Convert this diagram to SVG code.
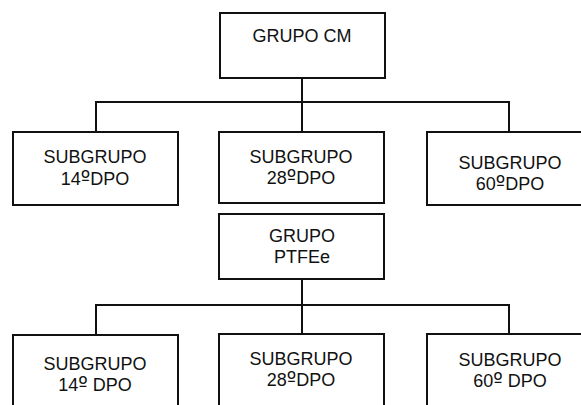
<svg xmlns="http://www.w3.org/2000/svg" width="581" height="405" viewBox="0 0 581 405">
<style>
.box{fill:#fff;stroke:#111;stroke-width:2}
.t{font-family:"Liberation Sans",Arial,sans-serif;font-size:18px;fill:#111;text-anchor:middle}
.o{font-family:"DejaVu Sans",sans-serif;font-size:20px}
.c{fill:none;stroke:#111;stroke-width:2}
</style>
<rect width="581" height="405" fill="#fff"/>
<g id="connectors">
<path class="c" d="M302 78V102M96 132V102H509V132M302 102V132"/>
<path class="c" d="M302 279V305M96 335V305H509V334M302 305V334"/>
</g>
<g id="grupo-cm"><rect class="box" x="220" y="13" width="165" height="65"/><text class="t" x="302" y="42">GRUPO CM</text></g>
<g id="cm-14"><rect class="box" x="13" y="132" width="165" height="73"/><text class="t" x="95" y="163">SUBGRUPO</text><text class="t" x="95" y="185">14<tspan class="o">º</tspan>DPO</text></g>
<g id="cm-28"><rect class="box" x="219" y="132" width="165" height="71"/><text class="t" x="301" y="163">SUBGRUPO</text><text class="t" x="301" y="184">28<tspan class="o">º</tspan>DPO</text></g>
<g id="cm-60"><rect class="box" x="427" y="132" width="166" height="73"/><text class="t" x="510" y="169">SUBGRUPO</text><text class="t" x="510" y="190">60<tspan class="o">º</tspan>DPO</text></g>
<g id="grupo-ptfee"><rect class="box" x="219" y="214" width="165" height="65"/><text class="t" x="302" y="242">GRUPO</text><text class="t" x="302" y="263">PTFEe</text></g>
<g id="ptfee-14"><rect class="box" x="13" y="335" width="165" height="90"/><text class="t" x="95" y="370">SUBGRUPO</text><text class="t" x="95" y="391">14<tspan class="o">º</tspan> DPO</text></g>
<g id="ptfee-28"><rect class="box" x="219" y="334" width="165" height="90"/><text class="t" x="301" y="365">SUBGRUPO</text><text class="t" x="301" y="386">28<tspan class="o">º</tspan>DPO</text></g>
<g id="ptfee-60"><rect class="box" x="427" y="334" width="166" height="90"/><text class="t" x="510" y="366">SUBGRUPO</text><text class="t" x="510" y="387">60<tspan class="o">º</tspan> DPO</text></g>
</svg>
